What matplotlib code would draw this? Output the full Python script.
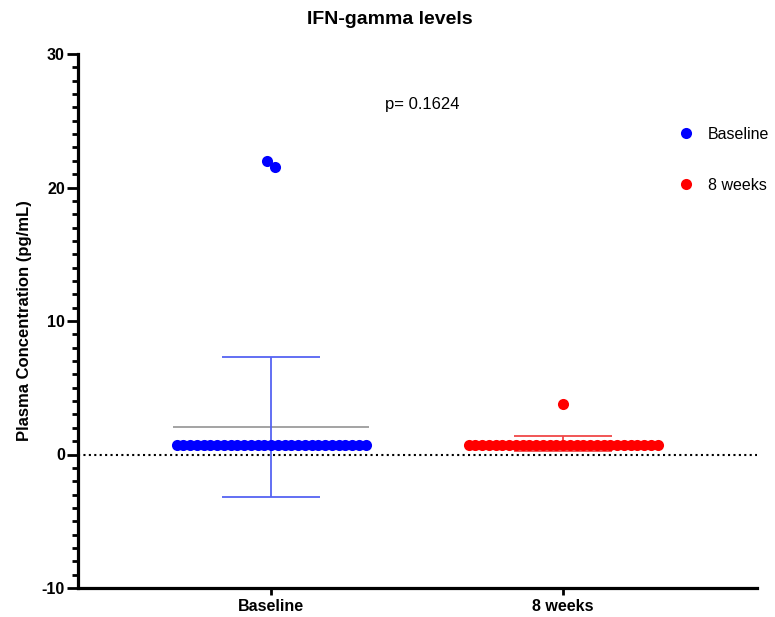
import numpy as np
import matplotlib
matplotlib.use("Agg")
import matplotlib.pyplot as plt
from matplotlib.lines import Line2D

plt.rcParams['font.family'] = ['Liberation Sans', 'DejaVu Sans']
plt.rcParams['axes.unicode_minus'] = False

# ---- data ----
groups = ["Baseline", "8 weeks"]
baseline_vals = [0.7, 0.7, 0.7, 0.7, 0.7, 0.7, 0.7, 0.7, 0.7, 0.7,
                 0.7, 0.7, 0.7, 0.7, 0.7, 0.7, 0.7, 0.7, 0.7, 0.7,
                 0.7, 0.7, 0.7, 0.7, 0.7, 0.7, 0.7, 0.7, 0.7,
                 22.0, 21.5]
week8_vals = [0.7, 0.7, 0.7, 0.7, 0.7, 0.7, 0.7, 0.7, 0.7, 0.7,
              0.7, 0.7, 0.7, 0.7, 0.7, 0.7, 0.7, 0.7, 0.7, 0.7,
              0.7, 0.7, 0.7, 0.7, 0.7, 0.7, 0.7, 0.7, 0.7,
              3.8]
series = [baseline_vals, week8_vals]
colors = ["#0000ff", "#ff0000"]
bar_colors = ["#5563f2", "#f04848"]
p_text = "p= 0.1624"
y_ticks = [-10, 0, 10, 20, 30]

fig = plt.figure(figsize=(7.75, 6.17), dpi=100)
W, H = 775, 617
ax = fig.add_axes([78 / W, 1 - 588 / H, (757 - 78) / W, (588 - 54) / H])
ax.set_xlim(-0.661, 1.664)
ax.set_ylim(-10, 30)

# pixel scale of the data axes
x0p, y0p = ax.transData.transform((0, 0))
x1p, y1p = ax.transData.transform((1, 1))
px_x = x1p - x0p
px_y = y1p - y0p

marker_d = 11.0   # marker diameter, px
row_step = 6.75   # spacing of tied values in a row, px


def swarm_offsets(vals):
    """Horizontal offsets (px) for a scatter column: tied values are laid
    out in an overlapping row, distinct values are pushed apart."""
    vals = np.asarray(vals, float)
    order = np.argsort(vals, kind="stable")
    placed = []
    offs = np.zeros(len(vals))
    cand = np.arange(-200, 200.01, 0.25)
    cand = cand[np.argsort(np.abs(cand) + (cand > 0) * 1e-6)]
    for i in order:
        yi = vals[i] * px_y
        for c in cand:
            ok = True
            for j in placed:
                dx = c - offs[j]
                if vals[j] == vals[i]:
                    if abs(dx) < row_step - 1e-6:
                        ok = False
                        break
                else:
                    dy = yi - vals[j] * px_y
                    if dx * dx + dy * dy < (marker_d * 0.9) ** 2 - 1e-6:
                        ok = False
                        break
            if ok:
                offs[i] = c
                break
        placed.append(i)
    # centre each small cluster of distinct colliding values
    singles = [i for i in range(len(vals)) if np.sum(vals == vals[i]) == 1]
    seen = set()
    for i in singles:
        if i in seen:
            continue
        comp = [i]
        stack = [i]
        seen.add(i)
        while stack:
            k = stack.pop()
            for j in singles:
                if j in seen:
                    continue
                dy = (vals[k] - vals[j]) * px_y
                if abs(dy) < marker_d:
                    seen.add(j)
                    comp.append(j)
                    stack.append(j)
        if len(comp) > 1:
            m = offs[comp].mean()
            offs[comp] -= m
    return offs


# zero reference line
ax.axhline(0, color="black", lw=1.5, ls=(0, (1, 1.6)), zorder=1)

for gi, (vals, col, bcol) in enumerate(zip(series, colors, bar_colors)):
    v = np.asarray(vals, float)
    mean = v.mean()
    sd = v.std(ddof=1)
    # mean line
    ax.plot([gi - 0.334, gi + 0.334], [mean, mean], color="#8a8a8a" if gi == 0 else bcol,
            lw=1.1, zorder=2, solid_capstyle="butt")
    # SD error bar
    ax.errorbar([gi], [mean], yerr=[sd], fmt="none", ecolor=bcol, elinewidth=1.3,
                capsize=35, capthick=1.3, zorder=2)
    offs = swarm_offsets(v)
    ax.plot(gi + offs / px_x, v, "o", color=col, ms=8.0, mec="none", zorder=3)

# text annotation
ax.text(0.517, 26.2, p_text, ha="center", va="center", fontsize=12)

# axes styling
for s in ["top", "right"]:
    ax.spines[s].set_visible(False)
ax.spines["left"].set_linewidth(2.3)
ax.spines["bottom"].set_linewidth(2.3)
ax.set_yticks(y_ticks)
ax.set_yticks(np.arange(-10, 31, 1), minor=True)
ax.set_xticks([0, 1])
ax.set_xticklabels(groups)
ax.tick_params(axis="y", which="major", length=8, width=2, pad=1.5, labelsize=11.5)
ax.tick_params(axis="y", which="minor", length=4.5, width=2)
ax.tick_params(axis="x", which="major", length=5, width=2, pad=3, labelsize=11.5)
for lab in ax.get_xticklabels() + ax.get_yticklabels():
    lab.set_fontweight("bold")
ax.set_ylabel("Plasma Concentration (pg/mL)", fontsize=12, fontweight="bold")
ax.yaxis.set_label_coords(-(78 - 32) / (757 - 78), 0.5)

fig.text(0.5025, 1 - 19 / H, "IFN-gamma levels", ha="center", va="center",
         fontsize=14, fontweight="bold")

handles = [Line2D([], [], ls="none", marker="o", color=c, ms=8.0, mec="none") for c in colors]
ax.legend(handles, groups, loc="upper left", bbox_to_anchor=(676 / W, 1 - 127 / H),
          bbox_transform=fig.transFigure, frameon=False, fontsize=11.5,
          handlelength=1.2, handletextpad=0.8, labelspacing=2.25,
          borderpad=0, borderaxespad=0)

fig.savefig("out.png", dpi=100)
